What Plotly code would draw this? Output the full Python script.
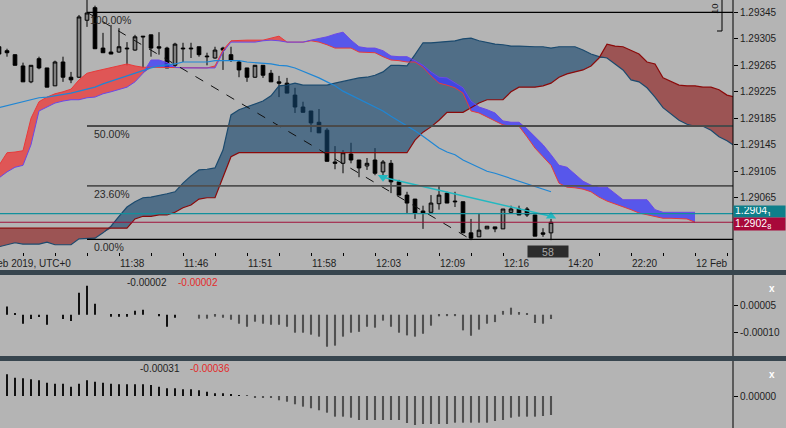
import plotly.graph_objects as go
import numpy as np

W, H = 786, 428

# ---------------- data ----------------
candle_idx = list(range(70))
candle_open = [1.29293, 1.29287, 1.29281, 1.29264, 1.29240, 1.29275, 1.29261, 1.29234, 1.29270, 1.29247,
               1.29247, 1.29333, 1.29352, 1.29291, 1.29285, 1.29285, 1.29291, 1.29288, 1.29309, 1.29311,
               1.29293, 1.29291, 1.29265, 1.29291, 1.29291, 1.29293, 1.29279, 1.29276, 1.29291, 1.29281,
               1.29270, 1.29261, 1.29247, 1.29265, 1.29253, 1.29240, 1.29238, 1.29220, 1.29202, 1.29196,
               1.29179, 1.29167, 1.29119, 1.29117, 1.29131, 1.29122, 1.29113, 1.29122, 1.29104, 1.29117,
               1.29089, 1.29069, 1.29063, 1.29045, 1.29043, 1.29056, 1.29072, 1.29060, 1.29059, 1.29012,
               1.29006, 1.29018, 1.29021, 1.29018, 1.29043, 1.29048, 1.29048, 1.29039, 1.29012, 1.29012]
candle_high = [1.29296, 1.29290, 1.29281, 1.29269, 1.29265, 1.29278, 1.29261, 1.29272, 1.29278, 1.29255,
               1.29341, 1.29371, 1.29355, 1.29314, 1.29326, 1.29321, 1.29300, 1.29311, 1.29309, 1.29311,
               1.29315, 1.29293, 1.29299, 1.29299, 1.29299, 1.29293, 1.29284, 1.29293, 1.29293, 1.29293,
               1.29273, 1.29261, 1.29265, 1.29265, 1.29258, 1.29249, 1.29246, 1.29231, 1.29210, 1.29196,
               1.29199, 1.29170, 1.29143, 1.29137, 1.29148, 1.29122, 1.29125, 1.29140, 1.29122, 1.29122,
               1.29092, 1.29074, 1.29063, 1.29053, 1.29069, 1.29084, 1.29074, 1.29074, 1.29059, 1.29033,
               1.29042, 1.29022, 1.29021, 1.29048, 1.29053, 1.29053, 1.29051, 1.29039, 1.29019, 1.29033]
candle_low = [1.29279, 1.29278, 1.29265, 1.29240, 1.29238, 1.29259, 1.29232, 1.29234, 1.29240, 1.29238,
              1.29246, 1.29323, 1.29290, 1.29284, 1.29282, 1.29284, 1.29265, 1.29287, 1.29261, 1.29278,
              1.29281, 1.29261, 1.29262, 1.29270, 1.29276, 1.29278, 1.29265, 1.29275, 1.29258, 1.29270,
              1.29247, 1.29240, 1.29246, 1.29246, 1.29240, 1.29217, 1.29223, 1.29193, 1.29194, 1.29164,
              1.29163, 1.29120, 1.29108, 1.29102, 1.29117, 1.29096, 1.29107, 1.29099, 1.29096, 1.29072,
              1.29069, 1.29042, 1.29033, 1.29018, 1.29043, 1.29047, 1.29057, 1.29051, 1.29012, 1.29001,
              1.29006, 1.29018, 1.29013, 1.29018, 1.29042, 1.29039, 1.29036, 1.29007, 1.29006, 1.29001]
candle_close = [1.29282, 1.29284, 1.29265, 1.29240, 1.29265, 1.29261, 1.29232, 1.29270, 1.29247, 1.29243,
                1.29338, 1.29344, 1.29290, 1.29284, 1.29282, 1.29293, 1.29290, 1.29308, 1.29308, 1.29291,
                1.29291, 1.29261, 1.29297, 1.29290, 1.29290, 1.29281, 1.29278, 1.29288, 1.29288, 1.29273,
                1.29258, 1.29247, 1.29265, 1.29250, 1.29240, 1.29238, 1.29223, 1.29202, 1.29194, 1.29178,
                1.29163, 1.29120, 1.29117, 1.29133, 1.29122, 1.29110, 1.29117, 1.29102, 1.29119, 1.29089,
                1.29069, 1.29057, 1.29042, 1.29042, 1.29057, 1.29069, 1.29057, 1.29059, 1.29012, 1.29004,
                1.29016, 1.29022, 1.29018, 1.29048, 1.29048, 1.29039, 1.29039, 1.29007, 1.29010, 1.29028]

# moving average line
ma_vals = [1.29201, 1.29204, 1.29207, 1.29210, 1.29213, 1.29216, 1.29217, 1.29219, 1.29220, 1.29223,
           1.29226, 1.29229, 1.29232, 1.29237, 1.29241, 1.29246, 1.29249, 1.29253, 1.29258, 1.29261,
           1.29264, 1.29265, 1.29267, 1.29270, 1.29270, 1.29270, 1.29270, 1.29272, 1.29272, 1.29273,
           1.29272, 1.29270, 1.29269, 1.29269, 1.29267, 1.29265, 1.29264, 1.29261, 1.29256, 1.29252,
           1.29246, 1.29240, 1.29234, 1.29226, 1.29220, 1.29214, 1.29208, 1.29202, 1.29196, 1.29188,
           1.29181, 1.29173, 1.29166, 1.29158, 1.29149, 1.29140, 1.29134, 1.29130, 1.29122, 1.29116,
           1.29110, 1.29105, 1.29102, 1.29098, 1.29093, 1.29090, 1.29086, 1.29081, 1.29078, 1.29074]

# cloud 1 (red / blue)
cloud1_idx = list(range(88))
cloud1_a = [1.29114, 1.29133, 1.29134, 1.29136, 1.29185, 1.29210, 1.29217, 1.29222, 1.29225, 1.29229,
            1.29243, 1.29253, 1.29256, 1.29259, 1.29261, 1.29264, 1.29267, 1.29264, 1.29262, 1.29262,
            1.29262, 1.29262, 1.29262, 1.29261, 1.29261, 1.29261, 1.29261, 1.29264, 1.29288, 1.29302,
            1.29303, 1.29303, 1.29303, 1.29303, 1.29306, 1.29309, 1.29300, 1.29300, 1.29300, 1.29302,
            1.29300, 1.29296, 1.29291, 1.29291, 1.29291, 1.29285, 1.29284, 1.29284, 1.29278, 1.29273,
            1.29272, 1.29270, 1.29270, 1.29262, 1.29249, 1.29238, 1.29235, 1.29231, 1.29223, 1.29196,
            1.29193, 1.29187, 1.29181, 1.29175, 1.29173, 1.29173, 1.29157, 1.29140, 1.29127, 1.29114,
            1.29087, 1.29081, 1.29080, 1.29078, 1.29074, 1.29066, 1.29060, 1.29056, 1.29051, 1.29047,
            1.29042, 1.29039, 1.29036, 1.29034, 1.29034, 1.29034, 1.29033, 1.29028]
cloud1_b = [1.29095, 1.29104, 1.29111, 1.29114, 1.29145, 1.29196, 1.29202, 1.29208, 1.29211, 1.29213,
            1.29213, 1.29216, 1.29217, 1.29222, 1.29225, 1.29229, 1.29232, 1.29240, 1.29253, 1.29273,
            1.29273, 1.29269, 1.29262, 1.29261, 1.29261, 1.29261, 1.29261, 1.29261, 1.29285, 1.29300,
            1.29300, 1.29300, 1.29300, 1.29302, 1.29303, 1.29302, 1.29300, 1.29300, 1.29300, 1.29303,
            1.29305, 1.29308, 1.29312, 1.29315, 1.29303, 1.29293, 1.29291, 1.29291, 1.29287, 1.29279,
            1.29278, 1.29278, 1.29272, 1.29265, 1.29255, 1.29247, 1.29246, 1.29238, 1.29231, 1.29211,
            1.29202, 1.29198, 1.29193, 1.29181, 1.29179, 1.29179, 1.29169, 1.29157, 1.29145, 1.29130,
            1.29114, 1.29111, 1.29101, 1.29090, 1.29084, 1.29081, 1.29081, 1.29072, 1.29062, 1.29062,
            1.29062, 1.29062, 1.29047, 1.29043, 1.29043, 1.29043, 1.29043, 1.29043]

# cloud 2 (slate / maroon)
cloud2_idx = list(range(93))
cloud2_c = [1.28991, 1.28994, 1.28997, 1.28995, 1.28995, 1.28995, 1.28998, 1.28994, 1.28994, 1.28994,
            1.29003, 1.29004, 1.29004, 1.29012, 1.29022, 1.29037, 1.29051, 1.29059, 1.29065, 1.29066,
            1.29068, 1.29071, 1.29074, 1.29087, 1.29098, 1.29107, 1.29108, 1.29110, 1.29137, 1.29190,
            1.29198, 1.29202, 1.29207, 1.29211, 1.29219, 1.29234, 1.29235, 1.29238, 1.29235, 1.29235,
            1.29235, 1.29235, 1.29238, 1.29241, 1.29244, 1.29246, 1.29247, 1.29250, 1.29255, 1.29265,
            1.29265, 1.29264, 1.29281, 1.29299, 1.29299, 1.29300, 1.29300, 1.29302, 1.29305, 1.29306,
            1.29302, 1.29299, 1.29297, 1.29296, 1.29294, 1.29294, 1.29293, 1.29293, 1.29293, 1.29291,
            1.29293, 1.29293, 1.29293, 1.29288, 1.29282, 1.29278, 1.29276, 1.29267, 1.29258, 1.29243,
            1.29240, 1.29231, 1.29217, 1.29201, 1.29191, 1.29182, 1.29176, 1.29173, 1.29173, 1.29167,
            1.29157, 1.29151, 1.29143]
cloud2_d = [1.29019, 1.29019, 1.29019, 1.29019, 1.29019, 1.29019, 1.29019, 1.29019, 1.29019, 1.29019,
            1.29019, 1.29019, 1.29019, 1.29019, 1.29019, 1.29019, 1.29019, 1.29033, 1.29037, 1.29037,
            1.29039, 1.29039, 1.29043, 1.29050, 1.29054, 1.29063, 1.29065, 1.29065, 1.29095, 1.29127,
            1.29133, 1.29133, 1.29133, 1.29133, 1.29133, 1.29133, 1.29133, 1.29133, 1.29133, 1.29133,
            1.29133, 1.29133, 1.29133, 1.29133, 1.29133, 1.29133, 1.29133, 1.29133, 1.29133, 1.29133,
            1.29133, 1.29133, 1.29152, 1.29164, 1.29172, 1.29182, 1.29194, 1.29194, 1.29194, 1.29201,
            1.29208, 1.29213, 1.29213, 1.29213, 1.29225, 1.29232, 1.29232, 1.29232, 1.29234, 1.29238,
            1.29247, 1.29252, 1.29255, 1.29258, 1.29264, 1.29276, 1.29297, 1.29294, 1.29293, 1.29288,
            1.29282, 1.29270, 1.29267, 1.29246, 1.29240, 1.29235, 1.29234, 1.29234, 1.29232, 1.29232,
            1.29228, 1.29220, 1.29217]

# Fibonacci retracement
fib_levels = [0.0, 23.6, 50.0, 100.0]
fib_labels = ["0.00%", "23.60%", "50.00%", "100.00%"]
fib_high = 1.29345
fib_low = 1.29002
fib_anchor_idx = [11, 59]

# trend line
trend_idx = [48, 69]
trend_vals = [1.29096, 1.29037]

# price lines
bid_price = 1.29041
ask_price = 1.29028
countdown = "58"

# price axis ticks
price_ticks = [1.29065, 1.29105, 1.29145, 1.29185, 1.29225, 1.29265, 1.29305, 1.29345]
time_tick_idx = [15, 23, 31, 39, 47, 55, 63, 71, 79, 87]
time_tick_labels = ["11:38", "11:46", "11:51", "11:58", "12:03", "12:09", "12:16", "14:20", "22:20", "12 Feb"]
date_label = "11 Feb 2019, UTC+0"

# oscillators
hist_idx = list(range(1, 70))
osc1_vals = [0.000046, 0.000008, -0.000050, -0.000024, -0.000013, -0.000056, 0.0, -0.000024, -0.000035, 0.000122,
             0.000161, 0.000061, 0.0, -0.000011, -0.000011, -0.000011, 0.000022, 0.000028, 0.0, -0.000009,
             -0.000067, -0.000017, 0.0, 0.0, -0.000022, -0.000022, -0.000011, -0.000017, -0.000028, -0.000050,
             -0.000067, -0.000039, -0.000050, -0.000056, -0.000056, -0.000067, -0.000100, -0.000100, -0.000111, -0.000122,
             -0.000178, -0.000172, -0.000122, -0.000100, -0.000095, -0.000067, -0.000072, -0.000033, -0.000067, -0.000100,
             -0.000115, -0.000122, -0.000106, -0.000061, -0.000009, -0.000008, -0.000008, -0.000087, -0.000117, -0.000083,
             -0.000050, -0.000041, 0.000021, 0.000039, 0.000015, 0.000009, -0.000046, -0.000050, -0.000024]
osc1_text = ["-0.00002", "-0.00002"]
osc1_ticks = [0.00005, -0.00010]
osc2_vals = [0.000354, 0.000298, 0.000289, 0.000272, 0.000256, 0.000217, 0.000200, 0.000200, 0.000152, 0.000200,
             0.000256, 0.000233, 0.000217, 0.000200, 0.000191, 0.000191, 0.000191, 0.000191, 0.000179, 0.000152,
             0.000126, 0.000126, 0.000109, 0.000109, 0.000093, 0.000070, 0.000044, 0.000044, 0.000028, 0.000016,
             0.000003, -0.000028, -0.000028, -0.000028, -0.000070, -0.000093, -0.000135, -0.000174, -0.000200, -0.000233,
             -0.000272, -0.000337, -0.000337, -0.000354, -0.000391, -0.000391, -0.000391, -0.000391, -0.000391, -0.000391,
             -0.000440, -0.000473, -0.000456, -0.000456, -0.000456, -0.000456, -0.000435, -0.000435, -0.000435, -0.000435,
             -0.000435, -0.000408, -0.000391, -0.000354, -0.000337, -0.000337, -0.000337, -0.000326, -0.000310]
osc2_text = ["-0.00031", "-0.00036"]
osc2_ticks = [0.0]

# ---------------- styling helpers ----------------
FONT = "Liberation Sans, Arial, sans-serif"
FS = 10
BG = "#b4b4b4"
def PX(x):
    return x / W
def PY(y):
    return 1 - y / H

X_DOM = [0, PX(733)]
X_RANGE = [0.125, 91.75]

fig = go.Figure()

# candles
fig.add_trace(go.Candlestick(
    x=candle_idx, open=candle_open, high=candle_high, low=candle_low, close=candle_close,
    increasing=dict(line=dict(color="#000000", width=1), fillcolor="#808080"),
    decreasing=dict(line=dict(color="#000000", width=1), fillcolor="#000000"),
    whiskerwidth=0, hoverinfo="skip", showlegend=False, xaxis="x", yaxis="y"))


def add_cloud(x, a, b, col_a, col_b):
    a = np.array(a)
    b = np.array(b)
    base = np.minimum(a, b)
    for top, col in ((a, col_a), (b, col_b)):
        fig.add_trace(go.Scatter(x=x, y=base, mode="lines", line=dict(width=0),
                                 hoverinfo="skip", showlegend=False))
        fig.add_trace(go.Scatter(x=x, y=top, mode="lines", line=dict(width=0),
                                 fill="tonexty", fillcolor=col, hoverinfo="skip", showlegend=False))


add_cloud(cloud2_idx, cloud2_d, cloud2_c, "rgba(140,20,20,0.6)", "rgba(20,68,108,0.62)")
add_cloud(cloud1_idx, cloud1_a, cloud1_b, "rgba(238,55,55,0.75)", "rgba(60,60,250,0.78)")

for xs, ys, col, w in ((cloud2_idx, cloud2_c, "#1b4a6e", 1.2), (cloud2_idx, cloud2_d, "#8b0a0a", 1.2),
                       (cloud1_idx, cloud1_a, "#e83a3a", 1.0), (cloud1_idx, cloud1_b, "#6a48e8", 1.0),
                       (candle_idx, ma_vals, "#1f86d4", 1.2)):
    fig.add_trace(go.Scatter(x=xs, y=ys, mode="lines", line=dict(color=col, width=w),
                             hoverinfo="skip", showlegend=False))

# fib trend (dashed)
fig.add_trace(go.Scatter(x=fib_anchor_idx, y=[fib_high, fib_low], mode="lines",
                         line=dict(color="#111111", width=1, dash="dash"),
                         hoverinfo="skip", showlegend=False))

# cyan trend line with arrows
fig.add_trace(go.Scatter(x=trend_idx, y=trend_vals, mode="lines+markers",
                         line=dict(color="#22b8c0", width=1.5),
                         marker=dict(symbol=["triangle-down", "triangle-up"], size=9, color="#22b8c0"),
                         hoverinfo="skip", showlegend=False))

# oscillator bars
def bar_style(idx, cut):
    cols = ["#111111" if i <= cut else "#505050" for i in idx]
    wid = [0.14 if i <= cut else 0.26 for i in idx]
    return cols, wid

c1, w1 = bar_style(hist_idx, 23)
fig.add_trace(go.Bar(x=hist_idx, y=osc1_vals, marker=dict(color=c1, line=dict(width=0)), width=w1,
                     xaxis="x2", yaxis="y2", hoverinfo="skip", showlegend=False))
c2, w2 = bar_style(hist_idx, 30)
fig.add_trace(go.Bar(x=hist_idx, y=osc2_vals, marker=dict(color=c2, line=dict(width=0)), width=w2,
                     xaxis="x3", yaxis="y3", hoverinfo="skip", showlegend=False))

# ---------------- shapes ----------------
shapes = []
fib_style = {0.0: ("#000000", 1.2), 23.6: ("#505050", 1.8), 50.0: ("#4a4a4a", 2.0), 100.0: ("#000000", 1.2)}
for lvl in fib_levels:
    val = fib_low + (fib_high - fib_low) * lvl / 100
    col, w = fib_style[lvl]
    shapes.append(dict(type="line", xref="x", yref="y", x0=fib_anchor_idx[0], x1=X_RANGE[1],
                       y0=val, y1=val, line=dict(color=col, width=w)))
shapes.append(dict(type="line", xref="x", yref="y", x0=X_RANGE[0], x1=X_RANGE[1],
                   y0=bid_price, y1=bid_price, line=dict(color="#12909c", width=1.2)))
shapes.append(dict(type="line", xref="x", yref="y", x0=X_RANGE[0], x1=X_RANGE[1],
                   y0=ask_price, y1=ask_price, line=dict(color="#a0103a", width=1)))
# right price axis line
shapes.append(dict(type="line", xref="paper", yref="paper", x0=PX(733), x1=PX(733), y0=0, y1=1,
                   line=dict(color="#000000", width=1)))
# depth bracket top right
shapes.append(dict(type="line", xref="paper", yref="paper", x0=PX(722), x1=PX(722), y0=PY(0), y1=PY(31),
                   line=dict(color="#000000", width=1)))
shapes.append(dict(type="line", xref="paper", yref="paper", x0=PX(717), x1=PX(722), y0=PY(31), y1=PY(31),
                   line=dict(color="#000000", width=1)))
# panel separators
for y0, y1 in ((270, 275), (356, 361)):
    shapes.append(dict(type="rect", xref="paper", yref="paper", x0=0, x1=1, y0=PY(y1), y1=PY(y0),
                       fillcolor="#37454e", line=dict(width=0)))

# ---------------- annotations ----------------
ann = []
tf = dict(family=FONT, size=FS, color="#1e1e1e")
for i, lab in zip(time_tick_idx, time_tick_labels):
    ann.append(dict(x=i, xref="x", y=PY(263), yref="paper", text=lab, showarrow=False,
                    xanchor="left", yanchor="middle", xshift=-1, font=tf))
ann.append(dict(x=PX(73), xref="paper", y=PY(263), yref="paper", text=date_label, showarrow=False,
                xanchor="right", yanchor="middle", font=tf))
for lvl, lab in zip(fib_levels, fib_labels):
    val = fib_low + (fib_high - fib_low) * lvl / 100
    ann.append(dict(x=fib_anchor_idx[0], xref="x", y=val, yref="y", text=lab, showarrow=False,
                    xanchor="left", yanchor="middle", xshift=(1 if lvl == 100 else 5), yshift=-8,
                    font=dict(family=FONT, size=10.5, color="#2a2a2a")))
# price labels
ann.append(dict(x=PX(733), xref="paper", y=PY(212), yref="paper",
                text=f"{bid_price:.5f}"[:-1] + "<sub>" + f"{bid_price:.5f}"[-1] + "</sub>",
                showarrow=False, xanchor="left", yanchor="middle", align="left",
                width=49, height=9, borderpad=1, bgcolor="#0f7f8a",
                font=dict(family=FONT, size=10.5, color="#ffffff")))
ann.append(dict(x=PX(733), xref="paper", y=PY(223.5), yref="paper",
                text=f"{ask_price:.5f}"[:-1] + "<sub>" + f"{ask_price:.5f}"[-1] + "</sub>",
                showarrow=False, xanchor="left", yanchor="middle", align="left",
                width=49, height=10, borderpad=1, bgcolor="#a8083a",
                font=dict(family=FONT, size=10.5, color="#ffffff")))
ann.append(dict(x=PX(548), xref="paper", y=PY(251), yref="paper", text=countdown, showarrow=False,
                xanchor="center", yanchor="middle", width=38, height=9, borderpad=1,
                bgcolor="#2c2c2c", font=dict(family=FONT, size=10.5, color="#a8a8a8")))
ann.append(dict(x=PX(714), xref="paper", y=PY(9), yref="paper", text="10", textangle=-90,
                showarrow=False, xanchor="center", yanchor="middle",
                font=dict(family=FONT, size=9.5, color="#111111")))
# oscillator values
ann.append(dict(x=PX(125), xref="paper", y=PY(282), yref="paper", text=osc1_text[0], showarrow=False,
                xanchor="left", yanchor="middle", font=tf))
ann.append(dict(x=PX(176), xref="paper", y=PY(282), yref="paper", text=osc1_text[1], showarrow=False,
                xanchor="left", yanchor="middle", font=dict(family=FONT, size=FS, color="#e32a2a")))
ann.append(dict(x=PX(138), xref="paper", y=PY(368), yref="paper", text=osc2_text[0], showarrow=False,
                xanchor="left", yanchor="middle", font=tf))
ann.append(dict(x=PX(188), xref="paper", y=PY(368), yref="paper", text=osc2_text[1], showarrow=False,
                xanchor="left", yanchor="middle", font=dict(family=FONT, size=FS, color="#e32a2a")))
for yy in (288, 374):
    ann.append(dict(x=PX(772), xref="paper", y=PY(yy), yref="paper", text="<b>x</b>", showarrow=False,
                    xanchor="center", yanchor="middle", font=dict(family=FONT, size=10, color="#ffffff")))

# ---------------- layout ----------------
axfont = dict(family=FONT, size=FS, color="#1e1e1e")
common_y = dict(side="right", ticks="outside", ticklen=4, tickcolor="#000000", showgrid=False,
                zeroline=False, showline=False, tickfont=axfont, automargin=False, fixedrange=True)
fig.update_layout(
    width=W, height=H, margin=dict(l=0, r=0, t=0, b=0, pad=0),
    paper_bgcolor=BG, plot_bgcolor=BG, showlegend=False, hovermode=False,
    boxgap=0.35,
    xaxis=dict(domain=X_DOM, range=X_RANGE, anchor="y", tickmode="array",
               tickvals=list(range(3, 92, 4)), ticks="outside", ticklen=3, tickcolor="#000000",
               showticklabels=False, showgrid=False, zeroline=False, showline=False,
               rangeslider=dict(visible=False), fixedrange=True),
    xaxis2=dict(domain=X_DOM, matches="x", anchor="y2", showticklabels=False, ticks="",
                showgrid=False, zeroline=False, showline=False, fixedrange=True),
    xaxis3=dict(domain=X_DOM, matches="x", anchor="y3", showticklabels=False, ticks="",
                showgrid=False, zeroline=False, showline=False, fixedrange=True),
    yaxis=dict(domain=[PY(252), 1], range=[1.2898308, 1.293636], anchor="x", tickmode="array",
               tickvals=price_ticks, ticktext=[f"{v:.5f}" for v in price_ticks], **common_y),
    yaxis2=dict(domain=[PY(356), PY(275)], range=[-0.0002295, 0.0002206], anchor="x2", tickmode="array",
                tickvals=osc1_ticks, ticktext=[f"{v:.5f}" for v in osc1_ticks], **common_y),
    yaxis3=dict(domain=[0, PY(361)], range=[-0.0005216, 0.0005705], anchor="x3", tickmode="array",
                tickvals=osc2_ticks, ticktext=[f"{v:.5f}" for v in osc2_ticks], **common_y),
    shapes=shapes, annotations=ann,
)

fig.write_html("out.html", config={"displayModeBar": False},
               post_script="document.body.style.margin='0';document.body.style.overflow='hidden';")
